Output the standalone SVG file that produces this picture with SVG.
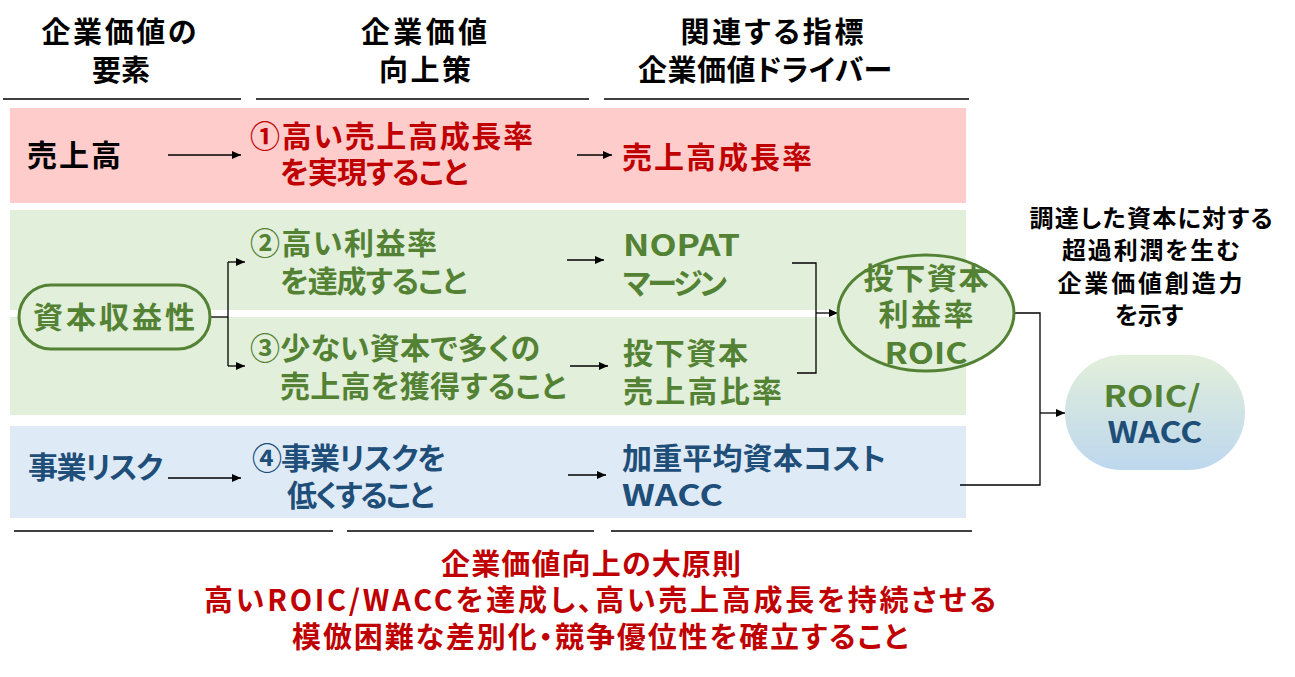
<svg xmlns="http://www.w3.org/2000/svg" width="1295" height="677" viewBox="0 0 1295 677">
<defs>
<style>
.t{font-family:"Noto Sans CJK JP","Noto Sans CJK SC",sans-serif;font-weight:700;font-feature-settings:"palt" 1;}
.h{font-size:29px;fill:#000;text-anchor:middle}
.f30{font-size:30px}
.f29{font-size:29px}
.f24{font-size:24px}
.m{text-anchor:middle}
.r{fill:#C00000}
.g{fill:#548235}
.b{fill:#1F4E79}
.k{fill:#000}
.ln{stroke:#000;stroke-width:1.3;fill:none}
.rule{stroke:#000;stroke-width:1.5}
</style>
<marker id="ah" markerUnits="userSpaceOnUse" markerWidth="9" markerHeight="8" refX="9" refY="4" orient="auto">
<path d="M0,0 L9,4 L0,8 z" fill="#000"/>
</marker>
<linearGradient id="grd" x1="0" y1="0" x2="0" y2="1">
<stop offset="0" stop-color="#E2EFDA"/>
<stop offset="1" stop-color="#BDD7EE"/>
</linearGradient>
</defs>

<g id="bands">
<rect x="10" y="108" width="956" height="95" fill="#FFCCCC"/>
<rect x="10" y="210" width="956" height="100" fill="#E2EFDA"/>
<rect x="10" y="317" width="956" height="98" fill="#E2EFDA"/>
<rect x="10" y="426" width="956" height="92" fill="#DEEBF7"/>
</g>

<g id="headers">
<text class="t h" x="119" y="43" textLength="155" lengthAdjust="spacing">企業価値の</text>
<text class="t h" x="121" y="81" textLength="58" lengthAdjust="spacing">要素</text>
<text class="t h" x="424" y="43" textLength="126" lengthAdjust="spacing">企業価値</text>
<text class="t h" x="425" y="81" textLength="92" lengthAdjust="spacing">向上策</text>
<text class="t h" x="772" y="43" textLength="183" lengthAdjust="spacing">関連する指標</text>
<text class="t h" x="765" y="81" textLength="254" lengthAdjust="spacing">企業価値ドライバー</text>
<line class="rule" x1="3" y1="99" x2="241" y2="99"/>
<line class="rule" x1="256" y1="99" x2="589" y2="99"/>
<line class="rule" x1="604" y1="99" x2="969" y2="99"/>
<line class="rule" x1="14" y1="531" x2="333" y2="531"/>
<line class="rule" x1="347" y1="531" x2="594" y2="531"/>
<line class="rule" x1="611" y1="531" x2="972" y2="531"/>
</g>

<g id="connectors">
<line class="ln" x1="168" y1="155" x2="241" y2="155" marker-end="url(#ah)"/>
<line class="ln" x1="577" y1="155" x2="612" y2="155" marker-end="url(#ah)"/>
<polyline class="ln" points="210,317 228,317"/>
<polyline class="ln" points="228,262 228,366"/>
<line class="ln" x1="228" y1="262" x2="245" y2="262" marker-end="url(#ah)"/>
<line class="ln" x1="228" y1="366" x2="245" y2="366" marker-end="url(#ah)"/>
<line class="ln" x1="567" y1="260" x2="604" y2="260" marker-end="url(#ah)"/>
<line class="ln" x1="570" y1="366" x2="608" y2="366" marker-end="url(#ah)"/>
<polyline class="ln" points="792,263 816,263 816,373 797,373"/>
<line class="ln" x1="816" y1="313" x2="838" y2="313" marker-end="url(#ah)"/>
<line class="ln" x1="168" y1="478" x2="241" y2="478" marker-end="url(#ah)"/>
<line class="ln" x1="568" y1="475" x2="606" y2="475" marker-end="url(#ah)"/>
<polyline class="ln" points="1015,313 1040,313 1040,485 960,485"/>
<line class="ln" x1="1040" y1="413" x2="1065" y2="413" marker-end="url(#ah)"/>
</g>

<g id="n-sales">
<text class="t f30 k" x="27" y="166" textLength="94" lengthAdjust="spacing">売上高</text>
</g>
<g id="n-policy1">
<text class="t f30 r" x="250" y="147" textLength="283" lengthAdjust="spacing">①高い売上高成長率</text>
<text class="t f30 r" x="280" y="183" textLength="188" lengthAdjust="spacing">を実現すること</text>
</g>
<g id="n-driver1">
<text class="t f30 r" x="622" y="168" textLength="190" lengthAdjust="spacing">売上高成長率</text>
</g>

<g id="n-capital">
<rect x="19" y="285" width="191" height="64" rx="32" fill="#E2EFDA" stroke="#548235" stroke-width="3"/>
<text class="t f30 g m" x="114" y="328" textLength="162" lengthAdjust="spacing">資本収益性</text>
</g>
<g id="n-policy2">
<text class="t f30 g" x="250" y="254" textLength="187" lengthAdjust="spacing">②高い利益率</text>
<text class="t f30 g" x="280" y="292" textLength="187" lengthAdjust="spacing">を達成すること</text>
</g>
<g id="n-policy3">
<text class="t f30 g" x="250" y="359" textLength="290" lengthAdjust="spacing">③少ない資本で多くの</text>
<text class="t f30 g" x="280" y="397" textLength="286" lengthAdjust="spacing">売上高を獲得すること</text>
</g>
<g id="n-nopat">
<text class="t f30 g" x="623" y="256" textLength="117" lengthAdjust="spacingAndGlyphs">NOPAT</text>
<text class="t f30 g" x="623" y="294" textLength="104" lengthAdjust="spacing">マージン</text>
</g>
<g id="n-turnover">
<text class="t f30 g" x="623" y="364" textLength="125" lengthAdjust="spacing">投下資本</text>
<text class="t f30 g" x="623" y="402" textLength="159" lengthAdjust="spacing">売上高比率</text>
</g>
<g id="n-roic">
<ellipse cx="926" cy="313" rx="88" ry="58" fill="#E2EFDA" stroke="#548235" stroke-width="3"/>
<text class="t f30 g m" x="926" y="289" textLength="125" lengthAdjust="spacing">投下資本</text>
<text class="t f30 g m" x="926" y="325" textLength="95" lengthAdjust="spacing">利益率</text>
<text class="t f30 g m" x="926" y="364" textLength="83" lengthAdjust="spacingAndGlyphs">ROIC</text>
</g>

<g id="n-risk">
<text class="t f30 b" x="28" y="478" textLength="135" lengthAdjust="spacing">事業リスク</text>
</g>
<g id="n-policy4">
<text class="t f30 b" x="252" y="469" textLength="194" lengthAdjust="spacing">④事業リスクを</text>
<text class="t f30 b" x="287" y="506" textLength="147" lengthAdjust="spacing">低くすること</text>
</g>
<g id="n-wacc">
<text class="t f30 b" x="622" y="469" textLength="264" lengthAdjust="spacing">加重平均資本コスト</text>
<text class="t f30 b" x="622" y="506" textLength="101" lengthAdjust="spacingAndGlyphs">WACC</text>
</g>

<g id="n-note">
<text class="t f24 k m" x="1151" y="227" textLength="243" lengthAdjust="spacing">調達した資本に対する</text>
<text class="t f24 k m" x="1151" y="259" textLength="178" lengthAdjust="spacing">超過利潤を生む</text>
<text class="t f24 k m" x="1150" y="292" textLength="185" lengthAdjust="spacing">企業価値創造力</text>
<text class="t f24 k m" x="1149" y="324" textLength="68" lengthAdjust="spacing">を示す</text>
</g>

<g id="n-roicwacc">
<rect x="1065" y="355" width="180" height="115" rx="57" fill="url(#grd)"/>
<text class="t f30 g m" x="1152" y="407" textLength="97" lengthAdjust="spacingAndGlyphs">ROIC/</text>
<text class="t f30 b m" x="1155" y="443" textLength="95" lengthAdjust="spacingAndGlyphs">WACC</text>
</g>

<g id="n-principle">
<text class="t f29 r m" x="591" y="575" textLength="300" lengthAdjust="spacing">企業価値向上の大原則</text>
<text class="t f29 r m" x="600" y="611" textLength="792" lengthAdjust="spacing">高いROIC/WACCを達成し、高い売上高成長を持続させる</text>
<text class="t f29 r m" x="600" y="648" textLength="616" lengthAdjust="spacing">模倣困難な差別化・競争優位性を確立すること</text>
</g>
</svg>
